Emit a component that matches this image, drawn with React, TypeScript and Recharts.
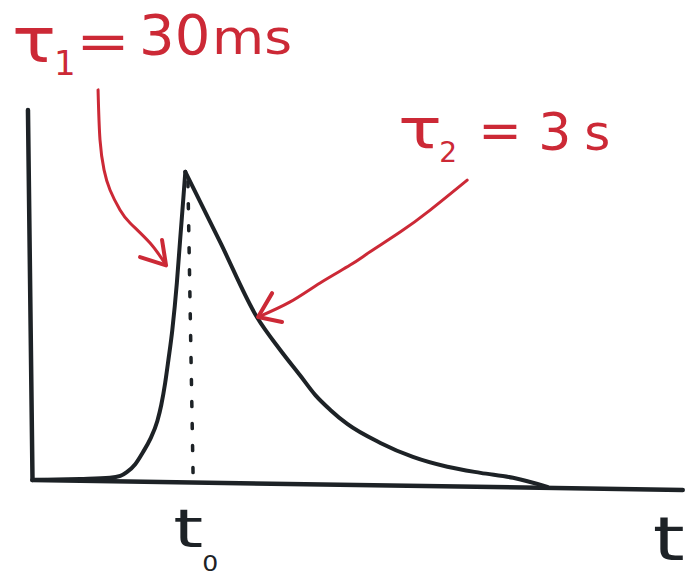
import { LineChart, Line, XAxis, YAxis, ReferenceLine, ReferenceDot } from "recharts";

// pulse: fast rise (tau1) up to t0, then slow exponential decay (tau2)
const riseT = [0, 0.73, 1.19, 1.35, 1.45, 1.58, 1.7, 1.81, 1.92, 1.98, 2.04, 2.09, 2.15, 2.22, 2.27, 2.32, 2.35];
const riseV = [0.014, 0.017, 0.02, 0.025, 0.035, 0.056, 0.088, 0.122, 0.17, 0.212, 0.27, 0.331, 0.41, 0.534, 0.647, 0.758, 0.827];

const decayT = [2.35, 2.89, 3.45, 3.81, 4.12, 4.35, 4.58, 4.84, 5.35, 5.85, 6.38, 6.89, 7.39, 7.92];
const decayV = [0.827, 0.64, 0.444, 0.357, 0.289, 0.238, 0.199, 0.162, 0.112, 0.075, 0.049, 0.033, 0.02, -0.004];

// red pointer arrows (shaft + head)
const arrow1T = [1.008, 1.038, 1.1, 1.192, 1.346, 1.5, 1.808, 2.038];
const arrow1V = [1.043, 0.911, 0.832, 0.779, 0.726, 0.692, 0.639, 0.585];
const head1T = [1.654, 2.054, 1.992];
const head1V = [0.602, 0.58, 0.647];

const arrow2T = [6.685, 6.115, 5.654, 5.192, 4.885, 4.423, 3.962, 3.469];
const arrow2V = [0.805, 0.726, 0.668, 0.616, 0.581, 0.534, 0.484, 0.444];
const head2T = [3.685, 3.469, 3.838];
const head2V = [0.507, 0.444, 0.431];

const T0 = 2.35;

const zip = (ts: number[], vs: number[]) => ts.map((t, i) => ({ t, v: vs[i] }));

const rise = zip(riseT, riseV);
const decay = zip(decayT, decayV);
const arrow1 = zip(arrow1T, arrow1V);
const head1 = zip(head1T, head1V);
const arrow2 = zip(arrow2T, arrow2V);
const head2 = zip(head2T, head2V);

const INK = "#1d2226";
const RED = "#cc2936";
const FONT = "'DejaVu Sans', sans-serif";

// hand-drawn letters run wider than the font, so some get a fixed length
const Txt = ({ x, y, w, size, fill, children }: any) => (
  <text
    x={x}
    y={y}
    fill={fill}
    fontFamily={FONT}
    fontSize={size}
    textLength={w}
    lengthAdjust={w ? "spacingAndGlyphs" : undefined}
  >
    {children}
  </text>
);

const Tau1 = ({ cx, cy }: any) => (
  <g>
    <Txt x={cx} y={cy} w={44} size={62} fill={RED}>τ</Txt>
    <Txt x={cx + 42} y={cy + 13} size={34} fill={RED}>1</Txt>
    <Txt x={cx + 64} y={cy - 3} w={54} size={52} fill={RED}>=</Txt>
    <Txt x={cx + 127} y={cy - 8} size={56} fill={RED}>30</Txt>
    <Txt x={cx + 200} y={cy - 8} w={80} size={48} fill={RED}>ms</Txt>
  </g>
);

const Tau2 = ({ cx, cy }: any) => (
  <g>
    <Txt x={cx} y={cy} w={44} size={56} fill={RED}>τ</Txt>
    <Txt x={cx + 41} y={cy + 14} size={28} fill={RED}>2</Txt>
    <Txt x={cx + 80} y={cy} size={52} fill={RED}>=</Txt>
    <Txt x={cx + 140} y={cy + 2} size={52} fill={RED}>3</Txt>
    <Txt x={cx + 186} y={cy + 2} size={50} fill={RED}>s</Txt>
  </g>
);

const T0Label = ({ cx, cy }: any) => (
  <g>
    <Txt x={cx - 12} y={cy} w={30} size={54} fill={INK}>t</Txt>
    <Txt x={cx + 17} y={cy + 24} w={16} size={22} fill={INK}>0</Txt>
  </g>
);

const TLabel = ({ cx, cy }: any) => (
  <Txt x={cx} y={cy} w={32} size={60} fill={INK}>t</Txt>
);

const lineStyle = {
  dot: false,
  activeDot: false,
  isAnimationActive: false,
  strokeLinecap: "round" as const,
  strokeLinejoin: "round" as const,
};

export default function App() {
  return (
    <div style={{ position: "absolute", left: 0, top: 0, background: "#fff" }}>
      <LineChart width={699} height={584} margin={{ top: 0, right: 0, bottom: 0, left: 0 }}>
        <XAxis type="number" dataKey="t" domain={[-0.5, 10.25]} hide />
        <YAxis type="number" domain={[-0.26, 1.28]} hide />

        {/* axes */}
        <ReferenceLine segment={[{ x: -0.07, y: 0.99 }, { x: 0, y: 0.014 }]} stroke={INK} strokeWidth={4.5} strokeLinecap="round" />
        <ReferenceLine segment={[{ x: 0, y: 0.014 }, { x: 10, y: -0.012 }]} stroke={INK} strokeWidth={4.5} strokeLinecap="round" />

        {/* t0 marker */}
        <ReferenceLine segment={[{ x: 2.39, y: 0.801 }, { x: 2.47, y: 0.022 }]} stroke={INK} strokeWidth={3.5} strokeDasharray="5 17" strokeLinecap="round" />

        <Line data={rise} dataKey="v" type="monotone" stroke={INK} strokeWidth={4} {...lineStyle} />
        <Line data={decay} dataKey="v" type="monotone" stroke={INK} strokeWidth={4} {...lineStyle} />

        <Line data={arrow1} dataKey="v" type="natural" stroke={RED} strokeWidth={3} {...lineStyle} />
        <Line data={head1} dataKey="v" type="linear" stroke={RED} strokeWidth={4} {...lineStyle} />
        <Line data={arrow2} dataKey="v" type="natural" stroke={RED} strokeWidth={3} {...lineStyle} />
        <Line data={head2} dataKey="v" type="linear" stroke={RED} strokeWidth={4} {...lineStyle} />

        <ReferenceDot x={-0.315} y={1.117} r={0} shape={(p: any) => <Tau1 {...p} />} />
        <ReferenceDot x={5.623} y={0.89} r={0} shape={(p: any) => <Tau2 {...p} />} />
        <ReferenceDot x={T0} y={-0.162} r={0} shape={(p: any) => <T0Label {...p} />} />
        <ReferenceDot x={9.54} y={-0.197} r={0} shape={(p: any) => <TLabel {...p} />} />
      </LineChart>
    </div>
  );
}
